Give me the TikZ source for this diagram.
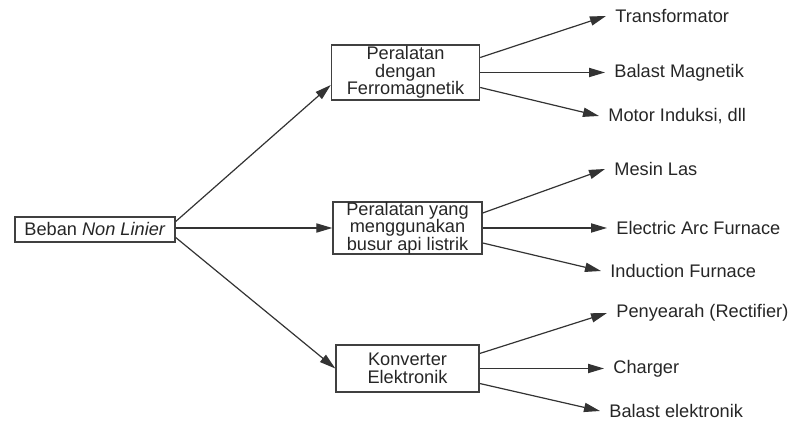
\documentclass[tikz,border=0pt]{standalone}
\usepackage{fontspec}
\setmainfont{Liberation Sans}
\usetikzlibrary{arrows.meta}
\tikzset{kotak/.style = {draw=black!75, line width=.7pt, align=center, inner sep=0pt,
    text=black!85, font=\fontsize{9.1}{8.8}\selectfont},
  daun/.style = {anchor=west, inner xsep=4.5pt, inner ysep=0pt, text=black!85,
    font=\fontsize{9.1}{11}\selectfont},
  panah/.style = {-{Triangle[length=8pt,width=4.6pt]}, line width=.6pt, draw=black!80}}

\begin{document}
\begin{tikzpicture}[x=.5pt, y=-.5pt]
      \useasboundingbox (0,0) rectangle (798,421);
      \node[kotak, minimum width=80pt, minimum height=12.5pt] (beban) at (95,229.5)
        {Beban \textit{Non Linier}};
      \node[kotak, minimum width=74pt, minimum height=27.5pt] (ferro) at (405.5,72.5)
        {Peralatan\\dengan\\Ferromagnetik};
      \node[kotak, minimum width=74.5pt, minimum height=26pt] (busur) at (407.5,228)
        {Peralatan yang\\menggunakan\\busur api listrik};
      \node[kotak, minimum width=71.5pt, minimum height=23.5pt] (konv) at (407.5,368.5)
        {Konverter\\Elektronik};
      \node[daun] (trafo) at (606,16) {Transformator};
      \node[daun] (balastm) at (605,72.5) {Balast Magnetik};
      \node[daun] (motor) at (599,116) {Motor Induksi, dll};
      \node[daun] (mesin) at (605,169) {Mesin Las};
      \node[daun] (eaf) at (607,228) {Electric Arc Furnace};
      \node[daun] (induksi) at (601,271) {Induction Furnace};
      \node[daun] (penyearah) at (607,313) {Penyearah (Rectifier)};
      \node[daun] (charger) at (604,368.5) {Charger};
      \node[daun] (balaste) at (600,411) {Balast elektronik};
      \draw[panah] ([yshift=4pt]beban.east) -- ([yshift=-6.25pt]ferro.west);
      \draw[panah] (beban.east |- busur.west) -- (busur.west);
      \draw[panah] ([yshift=-4pt]beban.east) -- (konv.west);
      \draw[panah] ([yshift=7.5pt]ferro.east) -- (trafo.west);
      \draw[panah] (ferro.east) -- (balastm.west);
      \draw[panah] ([yshift=-7.5pt]ferro.east) -- (motor.west);
      \draw[panah] ([yshift=7.5pt]busur.east) -- (mesin.west);
      \draw[panah] (busur.east) -- (eaf.west);
      \draw[panah] ([yshift=-7.5pt]busur.east) -- (induksi.west);
      \draw[panah] ([yshift=7.5pt]konv.east) -- (penyearah.west);
      \draw[panah] (konv.east) -- (charger.west);
      \draw[panah] ([yshift=-7.5pt]konv.east) -- (balaste.west);
\end{tikzpicture}
\end{document}
